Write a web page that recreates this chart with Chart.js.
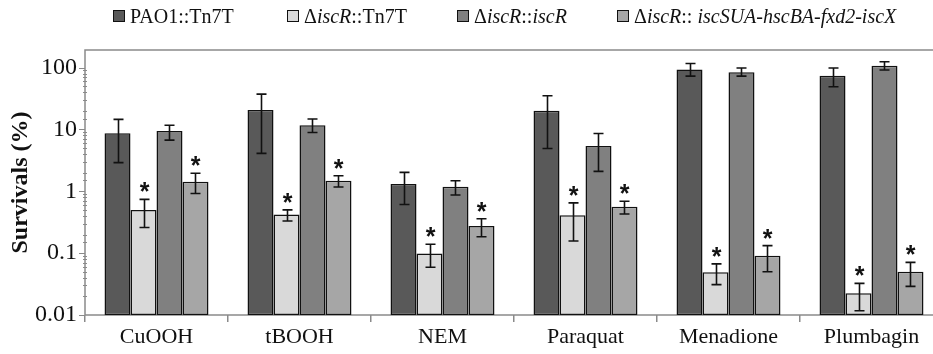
<!DOCTYPE html>
<html>
<head>
<meta charset="utf-8">
<script src="https://cdn.jsdelivr.net/npm/chart.js@4.4.1/dist/chart.umd.min.js"></script>
<style>
  html, body { margin: 0; padding: 0; background: #fff; }
  #wrap { position: relative; width: 933px; height: 354px; overflow: hidden; }
  #chart { position: absolute; left: 0; top: 0; }
  .leg { position: absolute; top: 4px; font-family: "Liberation Serif", "Times New Roman", serif; font-size: 20px; color: #111; white-space: nowrap; line-height: 24px; }
  .leg span.box { display: inline-block; width: 10px; height: 10px; border: 1px solid #111; margin-right: 5px; vertical-align: 1px; }
</style>
</head>
<body>
<div id="wrap">
  <canvas id="chart" width="960" height="354"></canvas>
  <div id="legend"></div>
</div>
<script>
// data (survival %, log scale)
const categories = ['CuOOH', 'tBOOH', 'NEM', 'Paraquat', 'Menadione', 'Plumbagin'];
const seriesLabels = ['PAO1::Tn7T', 'Δ<i>iscR</i>::Tn7T', 'Δ<i>iscR</i>::<i>iscR</i>', 'Δ<i>iscR</i>:: <i>iscSUA-hscBA-fxd2-iscX</i>'];

const pao1Mean = [8.7, 20.5, 1.31, 20, 93, 73.5];
const pao1Hi   = [14.5, 37.2, 2.02, 34.9, 116, 98];
const pao1Lo   = [2.9, 4.1, 0.61, 4.9, 72.6, 48.8];

const mutMean = [0.50, 0.42, 0.099, 0.41, 0.049, 0.0224];
const mutHi   = [0.74, 0.50, 0.139, 0.65, 0.067, 0.0325];
const mutLo   = [0.26, 0.33, 0.059, 0.157, 0.031, 0.0117];

const compMean = [9.4, 11.7, 1.18, 5.4, 84, 107];
const compHi   = [11.7, 14.7, 1.48, 8.6, 98, 124];
const compLo   = [6.7, 8.9, 0.87, 2.1, 72.6, 91];

const operonMean = [1.42, 1.48, 0.274, 0.56, 0.091, 0.050];
const operonHi   = [1.95, 1.78, 0.36, 0.69, 0.132, 0.071];
const operonLo   = [0.92, 1.17, 0.184, 0.43, 0.050, 0.029];

const significant = [false, true, false, true];
const yTickLabels = ['0.01', '0.1', '1', '10', '100'];

const barColors = ['#595959', '#d9d9d9', '#808080', '#a6a6a6'];
const legendLeft = [113, 287, 457, 617];

const means = [pao1Mean, mutMean, compMean, operonMean];
const his = [pao1Hi, mutHi, compHi, operonHi];
const los = [pao1Lo, mutLo, compLo, operonLo];

// html legend (needs italics)
const legend = document.getElementById('legend');
seriesLabels.forEach(function(lbl, i) {
    const d = document.createElement('div');
    d.className = 'leg';
    d.style.left = legendLeft[i] + 'px';
    d.innerHTML = '<span class="box" style="background:' + barColors[i] + '"></span>' + lbl;
    legend.appendChild(d);
});

const errorBars = {
    id: 'errorBars',
    beforeDatasetsDraw(chart) {
        const a = chart.chartArea;
        const ctx = chart.ctx;
        ctx.save();
        ctx.strokeStyle = '#8a8a8a';
        ctx.lineWidth = 1.5;
        ctx.strokeRect(a.left, a.top, a.right - a.left, a.bottom - a.top);
        // y axis tick marks, long for decades, short for the rest
        const y = chart.scales.y;
        y.ticks.forEach(function(t) {
            const py = Math.round(y.getPixelForValue(t.value)) + 0.5;
            const lg = Math.log10(t.value);
            if (t.value > 100.5) return;
            ctx.lineWidth = 1;
            ctx.beginPath();
            if (Math.abs(lg - Math.round(lg)) < 1e-6) {
                ctx.moveTo(a.left - 6, py);
                ctx.lineTo(a.left, py);
            } else {
                ctx.moveTo(a.left - 2, py);
                ctx.lineTo(a.left + 2, py);
            }
            ctx.stroke();
        });
        ctx.restore();
    },
    afterDatasetsDraw(chart) {
        const ctx = chart.ctx;
        const y = chart.scales.y;
        ctx.save();
        ctx.strokeStyle = '#111';
        ctx.fillStyle = '#111';
        ctx.lineWidth = 1.6;
        chart.data.datasets.forEach(function(ds, i) {
            const meta = chart.getDatasetMeta(i);
            meta.data.forEach(function(bar, j) {
                const x = Math.round(bar.x) + 0.5;
                const top = y.getPixelForValue(his[i][j]);
                const bot = y.getPixelForValue(los[i][j]);
                ctx.beginPath();
                ctx.moveTo(x, top); ctx.lineTo(x, bot);
                ctx.moveTo(x - 5, top); ctx.lineTo(x + 5, top);
                ctx.moveTo(x - 5, bot); ctx.lineTo(x + 5, bot);
                ctx.stroke();
                if (significant[i]) {
                    ctx.font = 'bold 25px "Liberation Sans", Arial, sans-serif';
                    ctx.textAlign = 'center';
                    ctx.textBaseline = 'alphabetic';
                    ctx.fillText('*', x, top + 1);
                }
            });
        });
        ctx.restore();
    }
};

new Chart(document.getElementById('chart'), {
    type: 'bar',
    data: {
        labels: categories,
        datasets: means.map(function(m, i) {
            return {
                label: seriesLabels[i].replace(/<[^>]+>/g, ''),
                data: m,
                backgroundColor: barColors[i],
                borderColor: '#111',
                borderWidth: 1.5,
                borderSkipped: false,
                barPercentage: 1,
                categoryPercentage: 0.727
            };
        })
    },
    options: {
        responsive: false,
        animation: false,
        devicePixelRatio: 1,
        layout: { padding: { top: 50, right: 17, left: 0, bottom: 0 } },
        plugins: { legend: { display: false }, tooltip: { enabled: false } },
        scales: {
            x: {
                grid: { display: true, drawOnChartArea: false, drawTicks: true, tickLength: 7, offset: true, color: '#8a8a8a', lineWidth: 1.5 },
                border: { display: false },
                ticks: { color: '#111', padding: 2, font: { family: '"Liberation Serif", "Times New Roman", serif', size: 22 } },
                afterFit: function(s) { s.height = 39; }
            },
            y: {
                type: 'logarithmic',
                min: 0.01,
                max: 192,
                grid: { display: false, drawTicks: false },
                border: { display: false },
                ticks: {
                    autoSkip: false,
                    padding: 8,
                    color: '#111',
                    font: { family: '"Liberation Serif", "Times New Roman", serif', size: 24 },
                    callback: function(v) {
                        const lg = Math.log10(v);
                        if (Math.abs(lg - Math.round(lg)) < 1e-6 && v <= 100.5) {
                            return yTickLabels[Math.round(lg) + 2];
                        }
                        return '';
                    }
                },
                title: {
                    display: true,
                    text: 'Survivals (%)',
                    color: '#111',
                    padding: { top: 6, bottom: 0 },
                    font: { family: '"Liberation Serif", "Times New Roman", serif', size: 24, weight: 'bold' }
                },
                afterFit: function(s) { s.width = 85; }
            }
        }
    },
    plugins: [errorBars]
});
</script>
</body>
</html>
